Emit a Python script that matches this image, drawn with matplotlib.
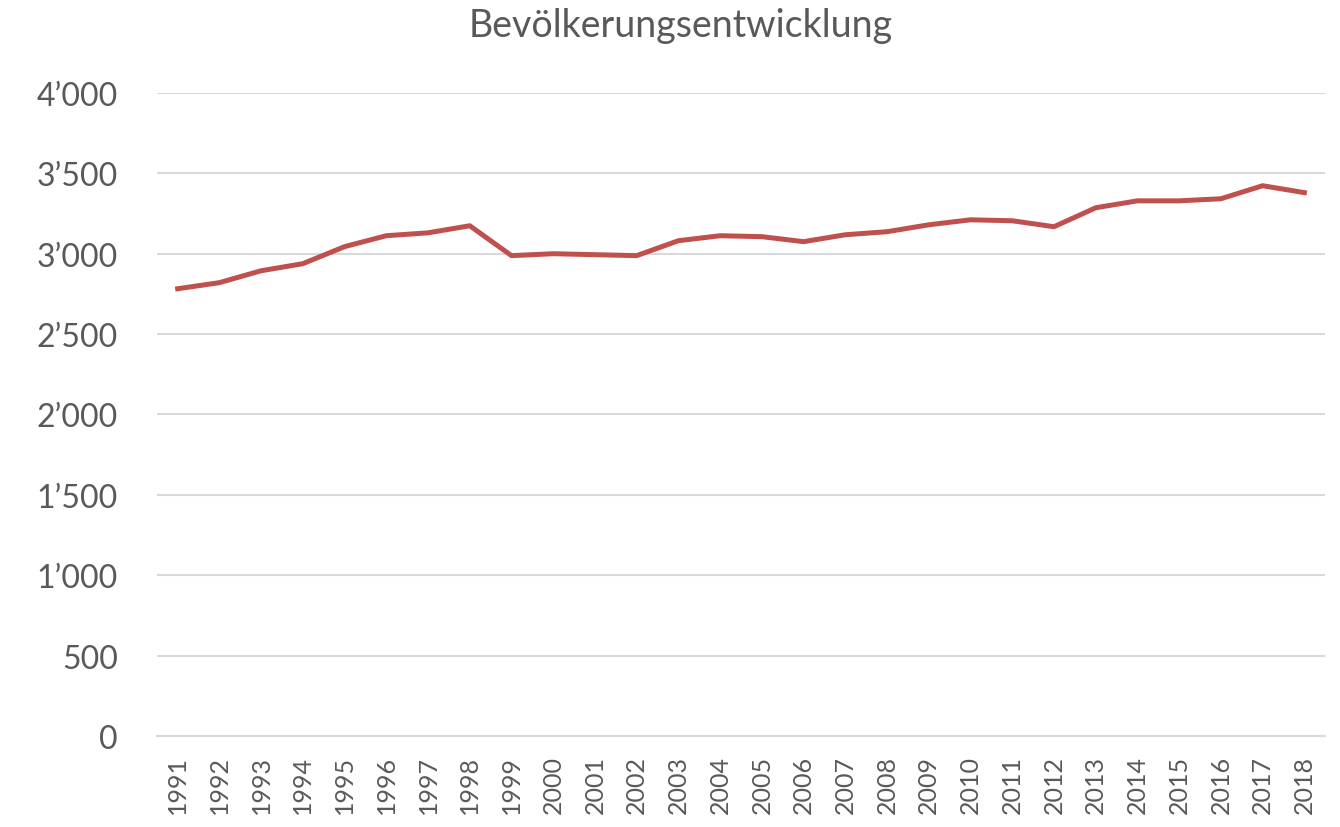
import matplotlib.pyplot as plt
from matplotlib.ticker import FuncFormatter

years = list(range(1991, 2019))
population = [2782, 2820, 2894, 2938, 3044, 3112, 3130, 3174, 2988, 3000,
              2994, 2988, 3081, 3112, 3106, 3075, 3118, 3137, 3180, 3211,
              3205, 3168, 3286, 3329, 3329, 3342, 3423, 3380]
y_ticks = [0, 500, 1000, 1500, 2000, 2500, 3000, 3500, 4000]

plt.rcParams['font.family'] = ['Lato', 'DejaVu Sans']
text_color = '#595959'
grid_color = '#D9D9D9'

fig = plt.figure(figsize=(13.4, 8.28), dpi=100)
ax = fig.add_axes([0.117, 0.11, 0.872, 0.7765])

x = list(range(len(years)))
ax.plot(x, population, color='#C0504D', linewidth=3.6, solid_joinstyle='round')

ax.set_xlim(-0.5, len(years) - 0.5)
ax.set_ylim(0, 4000)
ax.set_yticks(y_ticks)
ax.yaxis.set_major_formatter(FuncFormatter(lambda v, p: f"{int(v):,}".replace(',', '\u2019')))
ax.set_xticks(x)
ax.set_xticklabels([str(y) for y in years], rotation=90)

ax.grid(axis='y', color=grid_color, linewidth=1.5)
ax.set_axisbelow(True)
for side in ['top', 'right', 'left']:
    ax.spines[side].set_visible(False)
ax.spines['bottom'].set_color(grid_color)
ax.spines['bottom'].set_linewidth(1.5)

ax.tick_params(axis='y', length=0, labelsize=23, colors=text_color, pad=28)
ax.tick_params(axis='x', length=0, labelsize=18, colors=text_color, pad=14)

fig.suptitle('Bevölkerungsentwicklung', x=0.508, y=0.99, fontsize=27, color=text_color)

fig.savefig('out.png', dpi=100, facecolor='white')
